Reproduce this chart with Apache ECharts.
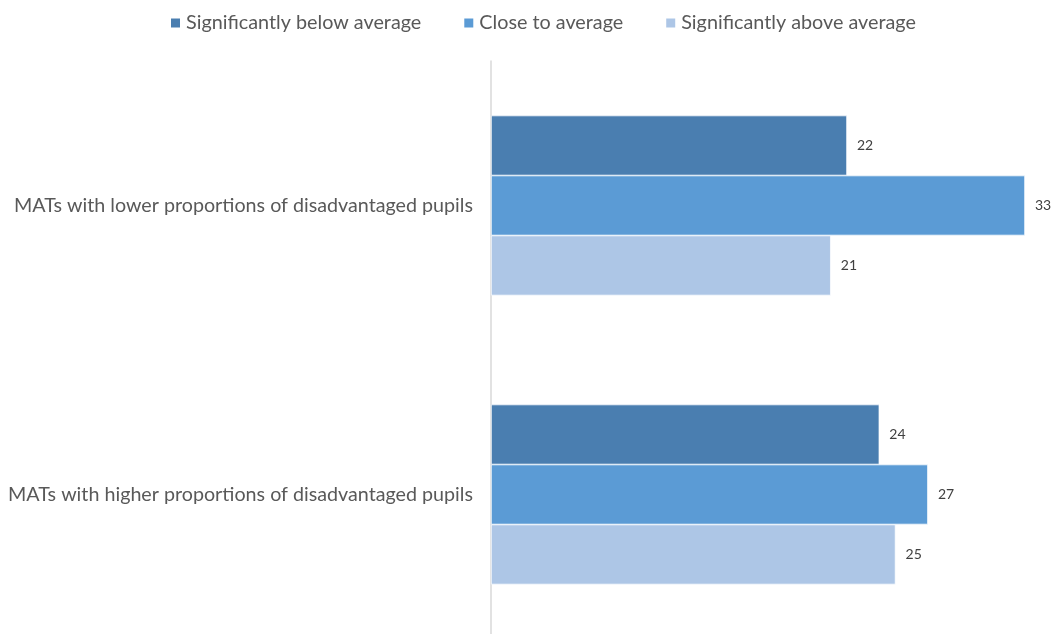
<!DOCTYPE html>
<html><head><meta charset="utf-8">
<script src="https://cdn.jsdelivr.net/npm/echarts@6/dist/echarts.min.js"></script>
<style>html,body{margin:0;padding:0;background:#fff;overflow:hidden}#c{width:1054px;height:645px}</style>
</head><body><div id="c"></div>
<script>
const categories = ['MATs with lower proportions of disadvantaged pupils', 'MATs with higher proportions of disadvantaged pupils'];
const seriesNames = ['Significantly below average', 'Close to average', 'Significantly above average'];
const belowAvg = [22, 24];
const closeAvg = [33, 27];
const aboveAvg = [21, 25];
const colors = ['#4a7eb0', '#5b9bd5', '#adc6e6'];
const FONT = 'Lato';
const chart = echarts.init(document.getElementById('c'));
const mk = (name, data, color) => ({
  name, type: 'bar', data, barWidth: 60, barGap: '0%',
  itemStyle: { color, borderColor: '#ffffff', borderWidth: 0.7 },
  label: { show: true, position: 'right', distance: 10, color: '#404040', fontSize: 14, fontFamily: FONT },
  emphasis: { disabled: true }
});
chart.setOption({
  animation: false,
  legend: {
    top: 8, left: 164, itemWidth: 11, itemHeight: 11, itemGap: 41,
    icon: 'rect',
    textStyle: { color: '#595959', fontSize: 19.8, fontFamily: FONT }
  },
  grid: { left: 491, right: 29, top: 61, height: 578, containLabel: false },
  xAxis: { type: 'value', min: 0, max: 33, show: false },
  yAxis: {
    type: 'category', data: categories, inverse: true,
    axisLine: { show: true, lineStyle: { color: '#d9d9d9', width: 1.5 } },
    axisTick: { show: false },
    axisLabel: { color: '#595959', fontSize: 19.7, fontFamily: FONT, margin: 18 }
  },
  series: [mk(seriesNames[0], belowAvg, colors[0]), mk(seriesNames[1], closeAvg, colors[1]), mk(seriesNames[2], aboveAvg, colors[2])]
});
</script></body></html>
